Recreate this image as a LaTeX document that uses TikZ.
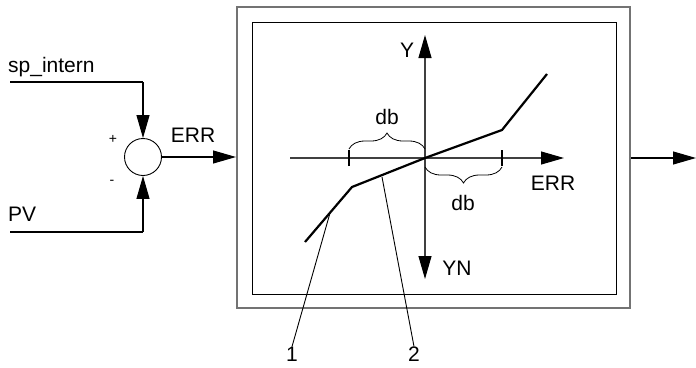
\documentclass[tikz,border=0pt]{standalone}
\usepackage{fontspec}
\setmainfont{Liberation Sans}
\usetikzlibrary{arrows.meta,decorations.pathreplacing}
\begin{document}
\begin{tikzpicture}[x=1pt,y=-1pt,
  thin line/.style={line width=1.1pt,black},
  arr/.style={thin line,-{Triangle[length=23pt,width=13pt,color=black]}},
  lbl/.style={font=\fontsize{21}{24}\selectfont,inner sep=0pt},
  sm/.style={font=\fontsize{14}{16}\selectfont,inner sep=0pt},
  br/.style={line width=0.8pt,decorate,decoration={brace,amplitude=16pt}}]
\useasboundingbox (0,0) rectangle (696,367);
% outer / inner box
\node[draw=black!55,line width=2pt,minimum width=393pt,minimum height=301pt,inner sep=0pt] (outer) at (433.5,157.5) {};
\node[draw=black,line width=1pt,minimum width=364pt,minimum height=272pt,inner sep=0pt] (inner) at (434,158) {};
% summing junction
\node[draw,circle,minimum size=37pt,inner sep=0pt,line width=0.9pt] (sum) at (143,157) {};
\coordinate (spA) at (10,82);
\coordinate (spB) at (143,82);
\coordinate (pvA) at (10,232);
\coordinate (pvB) at (143,232);
\draw[thin line] (spA) -- (spB);
\draw[arr] (spB) -- (sum.north);
\draw[thin line] (pvA) -- (pvB);
\draw[arr] (pvB) -- (sum.south);
\draw[arr] (sum.east) -- (sum.east -| outer.west);
\node[lbl,anchor=base west] (sp) at (8,72) {sp\_intern};
\node[lbl,anchor=base west] (pv) at (8,221) {PV};
\node[lbl] (errL) at (193,135) {ERR};
\node[sm] (plus) at (113,139) {+};
\node[sm] (minus) at (112,182) {-};
% output
\coordinate (outEnd) at (696,158);
\draw[arr] (outer.east |- outEnd) -- (outEnd);
% axes
\coordinate (O) at (425,158);
\coordinate (xL) at (290,158);
\coordinate (xR) at (564,158);
\coordinate (yT) at (425,35);
\coordinate (yB) at (425,279);
\draw[arr,black!75] (xL) -- (xR);
\draw[arr,black!75] (O) -- (yT);
\draw[arr,black!75] (O) -- (yB);
\node[lbl] (Y) at (407,50) {Y};
\node[lbl] (YN) at (457,268) {YN};
\node[lbl] (errA) at (553,183) {ERR};
% ticks
\coordinate (t1) at (349,158);
\coordinate (t2) at (502,158);
\draw[thin line] ([yshift=-8pt]t1) -- ([yshift=8pt]t1);
\draw[thin line] ([yshift=-8pt]t2) -- ([yshift=8pt]t2);
% braces
\draw[br] (349,149) -- (425,149);
\draw[br] (502,167) -- (425,167);
\node[lbl] (db1) at (387,117) {db};
\node[lbl] (db2) at (463,203) {db};
% characteristic
\coordinate (c0) at (305,242);
\coordinate (c1) at (352,187);
\coordinate (c2) at (502,130);
\coordinate (c3) at (547,74);
\draw[line width=2.2pt,line join=miter] (c0) -- (c1) -- (O) -- (c2) -- (c3);
% leaders
\coordinate (p1) at (330,213);
\coordinate (p2) at (382,177);
\node[lbl] (n1) at (292,354) {1};
\node[lbl] (n2) at (414,354) {2};
\draw[line width=0.9pt] (p1) -- (n1.north);
\draw[line width=0.9pt] (p2) -- (n2.north);
\end{tikzpicture}
\end{document}
